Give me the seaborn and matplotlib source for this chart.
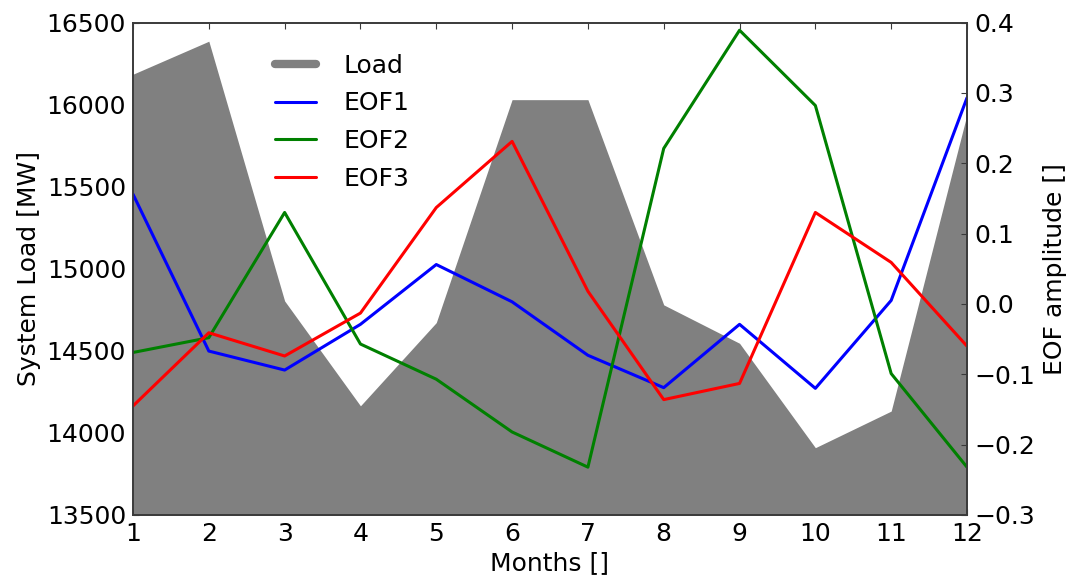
import matplotlib
matplotlib.use("Agg")
import matplotlib.pyplot as plt
from matplotlib.lines import Line2D
import pandas as pd
import seaborn as sns

# Monthly system load and the first three EOF patterns
months = list(range(1, 13))
system_load = [16185, 16386, 14804, 14165, 14672, 16030, 16030, 14780, 14546, 13910, 14133, 15940]
eof1 = [0.156, -0.067, -0.094, -0.029, 0.056, 0.003, -0.073, -0.119, -0.029, -0.120, 0.005, 0.293]
eof2 = [-0.069, -0.048, 0.130, -0.057, -0.107, -0.182, -0.232, 0.221, 0.389, 0.282, -0.099, -0.232]
eof3 = [-0.145, -0.041, -0.074, -0.013, 0.137, 0.231, 0.018, -0.136, -0.113, 0.130, 0.059, -0.060]
series_names = ["EOF1", "EOF2", "EOF3"]
series_colors = ["#0000ff", "#008000", "#ff0000"]

load_ticks = [13500, 14000, 14500, 15000, 15500, 16000, 16500]
eof_ticks = [-0.3, -0.2, -0.1, 0.0, 0.1, 0.2, 0.3, 0.4]

sns.set_theme(style="white")
plt.rcParams["font.family"] = ["DejaVu Sans"]
plt.rcParams["text.color"] = "black"
plt.rcParams["axes.labelcolor"] = "black"
plt.rcParams["xtick.labelcolor"] = "black"
plt.rcParams["ytick.labelcolor"] = "black"

eof_df = pd.DataFrame({
    "month": months * 3,
    "amplitude": eof1 + eof2 + eof3,
    "series": [n for n in series_names for _ in months],
})

fig = plt.figure(figsize=(10.69, 5.78), dpi=100)
ax1 = fig.add_axes([133 / 1069, 1 - 515 / 578, (967 - 133) / 1069, (515 - 22.5) / 578])

# System load as a filled area on the left axis
ax1.fill_between(months, system_load, load_ticks[0], color="#808080", linewidth=0)
ax1.set_xlim(1, 12)
ax1.set_ylim(load_ticks[0], load_ticks[-1])
ax1.set_xticks(months)
ax1.set_yticks(load_ticks)
ax1.set_xlabel("Months []", fontsize=18, labelpad=4)
ax1.set_ylabel("System Load [MW]", fontsize=18, labelpad=4)

# EOF amplitudes on the right axis
ax2 = ax1.twinx()
sns.lineplot(data=eof_df, x="month", y="amplitude", hue="series",
             hue_order=series_names, palette=series_colors,
             linewidth=2.2, ax=ax2, legend=False)
ax2.set_ylim(eof_ticks[0], eof_ticks[-1])
ax2.set_yticks(eof_ticks)
ax2.set_xlim(1, 12)
ax2.set_ylabel("EOF amplitude []", fontsize=18, labelpad=6)
ax2.set_xlabel("")

for ax in (ax1, ax2):
    for sp in ax.spines.values():
        sp.set_visible(True)
        sp.set_color("#3a3a3a")
        sp.set_linewidth(1.2)
ax1.tick_params(axis="both", which="major", direction="in", length=4, width=0.8,
                color="#3a3a3a", labelcolor="black", labelsize=18,
                top=True, bottom=True, left=True, right=False, pad=5)
ax2.tick_params(axis="y", which="major", direction="in", length=4, width=0.8,
                color="#3a3a3a", labelcolor="black", labelsize=18,
                right=True, left=False, pad=5)
ax2.tick_params(axis="x", top=False, bottom=False, labelbottom=False)

handles = [Line2D([], [], color="#808080", linewidth=6)] + [
    Line2D([], [], color=c, linewidth=2.2) for c in series_colors
]
labels = ["Load"] + series_names
ax2.legend(handles, labels, loc="upper left",
           bbox_to_anchor=(275 / 1069, 1 - 54 / 578), bbox_transform=fig.transFigure,
           frameon=False, fontsize=18, borderpad=0, borderaxespad=0,
           handlelength=1.64, handletextpad=1.1, labelspacing=0.54)

fig.savefig("out.png", dpi=100)
